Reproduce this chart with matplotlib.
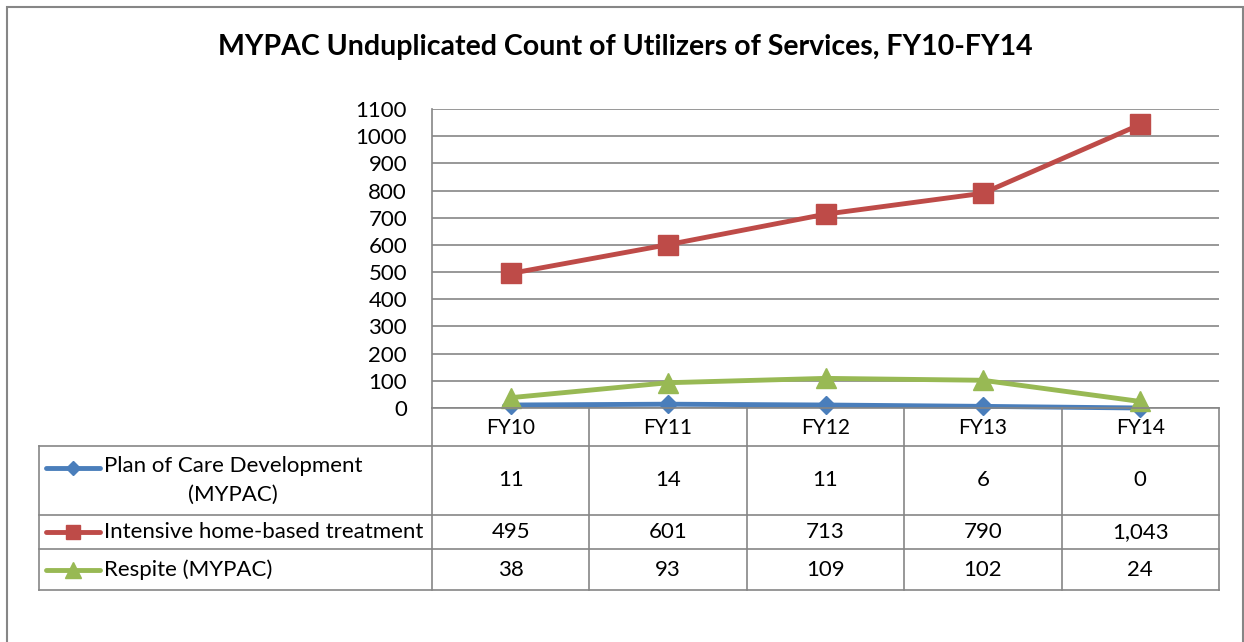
import matplotlib
matplotlib.use("Agg")
import matplotlib.pyplot as plt
from matplotlib.lines import Line2D
from matplotlib.patches import Rectangle

plt.rcParams['font.family'] = ['Lato', 'DejaVu Sans']

categories = ["FY10", "FY11", "FY12", "FY13", "FY14"]
series_names = ["Plan of Care Development\n(MYPAC)",
                "Intensive home-based treatment",
                "Respite (MYPAC)"]
plan_of_care = [11, 14, 11, 6, 0]
intensive = [495, 601, 713, 790, 1043]
respite = [38, 93, 109, 102, 24]
y_ticks = list(range(0, 1101, 100))

colors = ["#4A7EBB", "#BE4B48", "#98B954"]
markers = ["D", "s", "^"]
msizes = [9, 14, 15]

W, H = 1244, 642


def fx(px):
    return px / W


def fy(py):
    return 1 - py / H


fig = plt.figure(figsize=(W / 100, H / 100), dpi=100)

# outer chart frame
fig.patches.append(Rectangle((fx(7), fy(660)), fx(1243) - fx(7), fy(7) - fy(660),
                             transform=fig.transFigure, fill=False,
                             edgecolor="#868686", linewidth=1.5))

fig.text(fx(625), fy(47), "MYPAC Unduplicated Count of Utilizers of Services, FY10-FY14",
         ha="center", va="center", fontsize=20.5, fontweight="bold")

# plot area
left, right, top, bottom = 432, 1219, 109, 408
ax = fig.add_axes([fx(left), fy(bottom), fx(right) - fx(left), fy(top) - fy(bottom)])
ax.set_xlim(-0.5, len(categories) - 0.5)
ax.set_ylim(0, 1100)
ax.set_yticks(y_ticks)
ax.set_yticklabels([str(v) for v in y_ticks], fontsize=16)
ax.tick_params(axis="y", length=0, pad=18)
ax.set_xticks([])
ax.grid(axis="y", color="#868686", linewidth=1.2)
ax.set_axisbelow(True)
for s in ["top", "right", "bottom"]:
    ax.spines[s].set_visible(False)
ax.spines["left"].set_color("#868686")
ax.spines["left"].set_linewidth(1.2)

all_series = [plan_of_care, intensive, respite]
x = list(range(len(categories)))
for vals, c, m, ms in zip(all_series, colors, markers, msizes):
    ax.plot(x, vals, color=c, linewidth=3.5, marker=m, markersize=ms,
            clip_on=False, zorder=3)

# data table below the plot
row_edges = [408, 446, 515, 549, 590]
col_edges = [left + i * (right - left) / len(categories) for i in range(len(categories) + 1)]
tab_left = 39
gray = "#868686"


def hline(y, x0, x1):
    fig.add_artist(Line2D([fx(x0), fx(x1)], [fy(y), fy(y)], color=gray, linewidth=1.2))


def vline(x0, y0, y1):
    fig.add_artist(Line2D([fx(x0), fx(x0)], [fy(y0), fy(y1)], color=gray, linewidth=1.2))


hline(row_edges[0], left, right)
for y in row_edges[1:]:
    hline(y, tab_left, right)
for xe in col_edges:
    vline(xe, row_edges[0], row_edges[-1])
vline(tab_left, row_edges[1], row_edges[-1])

for i, cat in enumerate(categories):
    xc = (col_edges[i] + col_edges[i + 1]) / 2
    fig.text(fx(xc), fy(428), cat, ha="center", va="center", fontsize=15)

for r, (name, vals, c, m, ms) in enumerate(zip(series_names, all_series, colors, markers, msizes)):
    yc = (row_edges[r + 1] + row_edges[r + 2]) / 2
    line_y = yc - 13 if "\n" in name else yc
    fig.add_artist(Line2D([fx(46), fx(100)], [fy(line_y), fy(line_y)], color=c, linewidth=3.5,
                          solid_capstyle="round"))
    fig.add_artist(Line2D([fx(73)], [fy(line_y)], color=c, marker=m,
                          markersize=ms * 0.75, linestyle="none"))
    fig.text(fx(104), fy(yc), name, ha="left", va="center", fontsize=16,
             multialignment="center", linespacing=1.5)
    for i, v in enumerate(vals):
        xc = (col_edges[i] + col_edges[i + 1]) / 2
        fig.text(fx(xc), fy(yc), f"{v:,}", ha="center", va="center", fontsize=16)

fig.savefig("out.png", dpi=100)
